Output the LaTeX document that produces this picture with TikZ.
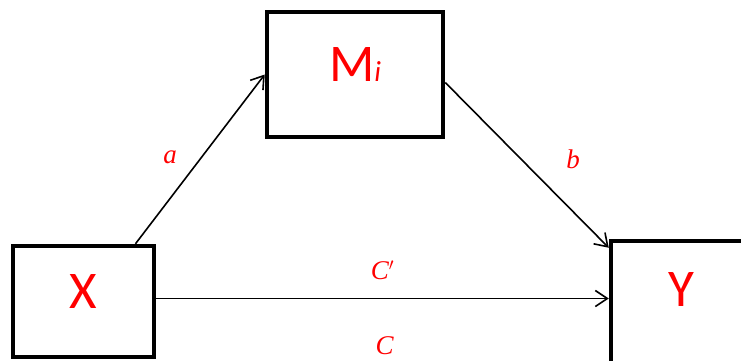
\documentclass[tikz,border=0pt]{standalone}
\usepackage{fontspec}
\setmainfont{Carlito}
\newfontfamily\pathfont{Liberation Serif}
\usetikzlibrary{arrows.meta}

\begin{document}
\begin{tikzpicture}[
  x=1pt, y=1pt,
  var/.style={
    rectangle,
    draw=black,
    line width=4.5pt,
    text=red,
    font=\fontsize{53}{60}\selectfont,
    text depth=20pt,
    inner sep=0pt
  },
  path label/.style={text=red, font=\pathfont\itshape\fontsize{27}{30}\selectfont},
  arrow/.style={-{Straight Barb[length=12pt, width=16pt]}, line width=1.6pt}
]
  \useasboundingbox (0,0) rectangle (741,360);
  \clip (0,0) rectangle (741,360);

  \node[var, minimum width=141pt, minimum height=111pt] (X) at (83.5,58.5) {X};
  \node[var, minimum width=176pt, minimum height=125pt] (M) at (355,285.5)
    {M{\fontsize{29}{30}\selectfont\itshape i}};
  \node[var, minimum width=140pt, minimum height=122pt, text depth=26pt] (Y) at (681,58) {Y};

  \draw[arrow] ([xshift=52pt]X.north) -- node[path label, xshift=-30pt, yshift=2pt] {a} (M.west);
  \draw[arrow] ([yshift=-8pt]M.east) -- node[path label, xshift=46pt, yshift=6pt] {b} ([yshift=-9pt]Y.north west);
  \draw[arrow] ([yshift=3pt]X.east) -- node[path label, yshift=28pt] {C$'$}
    node[path label, xshift=2pt, yshift=-47pt] {C} ([yshift=3pt]X.east -| Y.west);
\end{tikzpicture}
\end{document}
